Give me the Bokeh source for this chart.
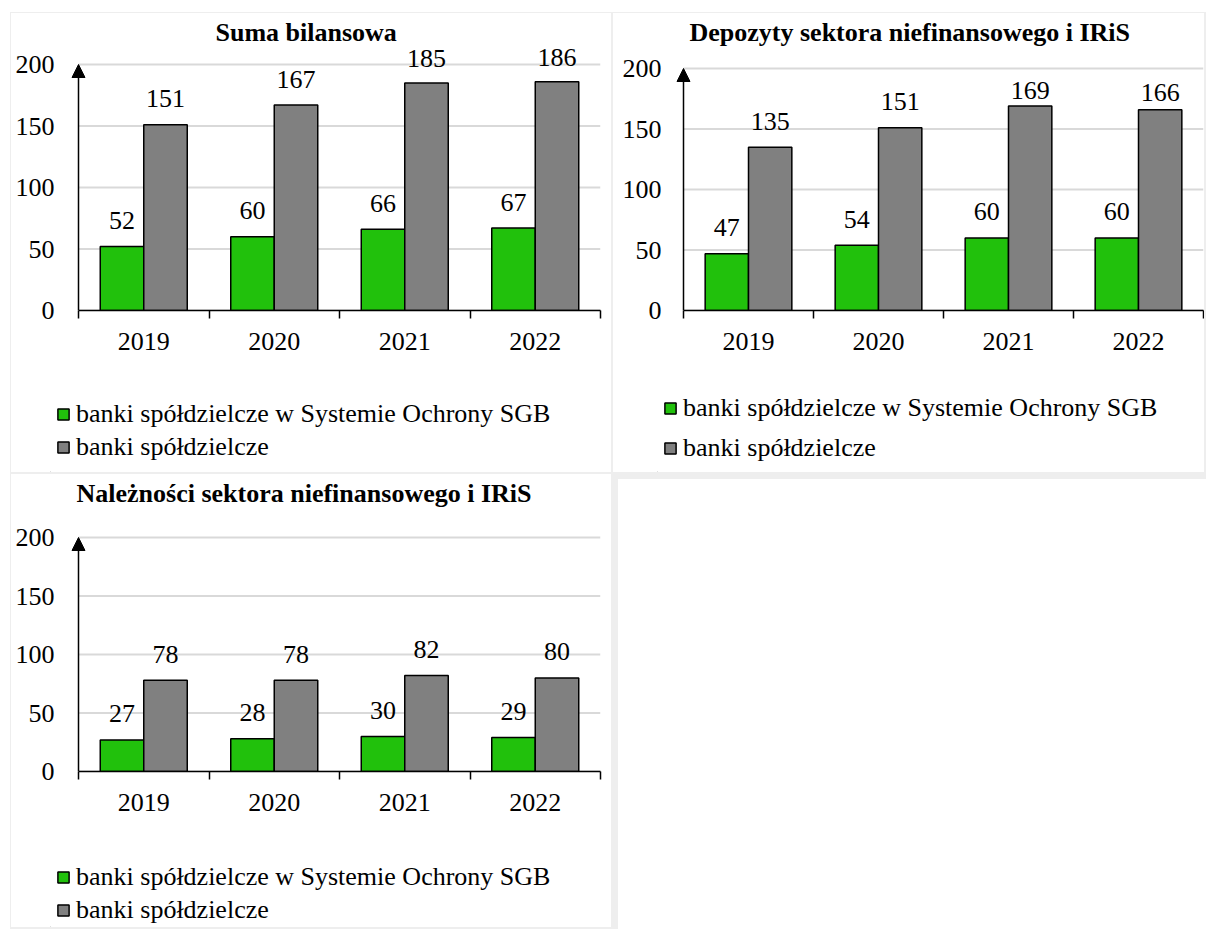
from bokeh.plotting import figure
from bokeh.models import (Range1d, FixedTicker, Arrow, NormalHead, Legend, LegendItem,
                          ColumnDataSource, Title, Div)
from bokeh.layouts import row, column
from bokeh.transform import dodge
from bokeh.core.properties import value
from bokeh.embed import file_html
from bokeh.resources import INLINE

# ---------------- data ----------------
years = ["2019", "2020", "2021", "2022"]
series_sgb = "banki spółdzielcze w Systemie Ochrony SGB"
series_all = "banki spółdzielcze"

title_suma = "Suma bilansowa"
suma_sgb = [52, 60, 66, 67]
suma_all = [151, 167, 185, 186]

title_dep = "Depozyty sektora niefinansowego i IRiS"
dep_sgb = [47, 54, 60, 60]
dep_all = [135, 151, 169, 166]

title_nal = "Należności sektora niefinansowego i IRiS"
nal_sgb = [27, 28, 30, 29]
nal_all = [78, 78, 82, 80]

y_ticks = [0, 50, 100, 150, 200]
y_max = 200

# ---------------- style ----------------
FONT = "Liberation Serif"
FS = "26px"
GREEN = "#21c10c"
GRAY = "#808080"
GRID = "#d9d9d9"


def chart(title, sgb, allv, width, height, frame_l, frame_r, frame_t, frame_b,
          axis_px, y200_px, y_lab_standoff, title_offset, title_standoff,
          off_sgb, off_all):
    n = len(years)
    frame_w = width - frame_l - frame_r
    x_start = -(axis_px - frame_l) * n / (frame_w - (axis_px - frame_l))
    y_end = y_max + (y200_px - frame_t) * y_max / ((height - frame_b) - y200_px)

    p = figure(width=width, height=height, x_range=Range1d(x_start, n), y_range=Range1d(0, y_end),
               output_backend="svg", toolbar_location=None, tools="",
               min_border_left=frame_l, min_border_right=frame_r,
               min_border_top=frame_t, min_border_bottom=frame_b)
    p.outline_line_color = None
    p.background_fill_color = "white"
    p.border_fill_color = "white"

    p.add_layout(Title(text=title, align="left", offset=title_offset, standoff=title_standoff,
                       text_font=FONT, text_font_size=FS, text_font_style="bold",
                       text_color="black"), "above")

    centers = [i + 0.5 for i in range(n)]
    bounds = [i for i in range(n + 1)]
    src = ColumnDataSource(dict(x=centers, sgb=sgb, all=allv,
                                sgb_lbl=[str(v) for v in sgb],
                                all_lbl=[str(v) for v in allv],
                                off_sgb=off_sgb, off_all=off_all))

    # horizontal grid lines from the value axis to the end of the category axis
    p.segment(x0=0, x1=n, y0=y_ticks, y1=y_ticks, line_color=GRID, line_width=2)

    p.vbar(x=dodge("x", -1 / 6, range=p.x_range), top="sgb", width=1 / 3, source=src,
           fill_color=GREEN, line_color="black", line_width=1.5)
    p.vbar(x=dodge("x", 1 / 6, range=p.x_range), top="all", width=1 / 3, source=src,
           fill_color=GRAY, line_color="black", line_width=1.5)

    p.text(x=dodge("x", -1 / 6, range=p.x_range), y="sgb", text="sgb_lbl", source=src,
           text_align="center", text_baseline="alphabetic", y_offset="off_sgb",
           text_font=value(FONT), text_font_size=FS, text_color="black")
    p.text(x=dodge("x", 1 / 6, range=p.x_range), y="all", text="all_lbl", source=src,
           text_align="center", text_baseline="alphabetic", y_offset="off_all",
           text_font=value(FONT), text_font_size=FS, text_color="black")

    # category axis
    p.xaxis.bounds = (0, n)
    p.xaxis.ticker = FixedTicker(ticks=centers, minor_ticks=bounds)
    p.xaxis.major_label_overrides = {c: y for c, y in zip(centers, years)}
    p.xaxis.major_tick_out = 0
    p.xaxis.major_tick_in = 0
    p.xaxis.minor_tick_out = 8
    p.xaxis.minor_tick_in = 0
    p.xaxis.minor_tick_line_color = "black"
    p.xaxis.minor_tick_line_width = 1.5
    p.xaxis.axis_line_color = "black"
    p.xaxis.axis_line_width = 1.5
    p.xaxis.major_label_standoff = 14
    p.xaxis.major_label_text_font = FONT
    p.xaxis.major_label_text_font_size = FS
    p.xaxis.major_label_text_color = "black"

    # value axis (its line is drawn as an arrow)
    p.yaxis.ticker = FixedTicker(ticks=y_ticks)
    p.yaxis.major_tick_out = 0
    p.yaxis.major_tick_in = 0
    p.yaxis.minor_tick_out = 0
    p.yaxis.axis_line_color = None
    p.yaxis.major_label_standoff = y_lab_standoff
    p.yaxis.major_label_text_font = FONT
    p.yaxis.major_label_text_font_size = FS
    p.yaxis.major_label_text_color = "black"

    p.xgrid.grid_line_color = None
    p.ygrid.grid_line_color = None

    p.add_layout(Arrow(end=NormalHead(size=13, fill_color="black", line_color="black", line_width=1),
                       x_start=0, y_start=0, x_end=0, y_end=y_max,
                       line_color="black", line_width=1.5))
    return p


def legend_fig(width, height, frame_l, frame_r, loc, spacing):
    q = figure(width=width, height=height, x_range=Range1d(0, 1), y_range=Range1d(0, 1),
               output_backend="svg", toolbar_location=None, tools="",
               x_axis_type=None, y_axis_type=None,
               min_border_left=frame_l, min_border_right=frame_r,
               min_border_top=0, min_border_bottom=0)
    q.outline_line_color = None
    q.background_fill_color = "white"
    q.border_fill_color = "white"
    q.xgrid.grid_line_color = None
    q.ygrid.grid_line_color = None
    # key swatches only (placed outside the visible range)
    g1 = q.vbar(x=[-1], top=[0], width=0.1, fill_color=GREEN, line_color="black", line_width=1.5)
    g2 = q.vbar(x=[-1], top=[0], width=0.1, fill_color=GRAY, line_color="black", line_width=1.5)
    legend = Legend(items=[LegendItem(label=value(series_sgb), renderers=[g1]),
                           LegendItem(label=value(series_all), renderers=[g2])],
                    location=loc, orientation="vertical",
                    label_text_font=FONT, label_text_font_size=FS, label_text_color="black",
                    glyph_width=14, glyph_height=14, label_standoff=6,
                    spacing=spacing, padding=0, margin=0,
                    border_line_color=None, background_fill_alpha=0)
    q.add_layout(legend)
    return q


c1 = chart(title_suma, suma_sgb, suma_all, 600, 380,
           frame_l=39, frame_r=11, frame_t=33, frame_b=83,
           axis_px=67, y200_px=51, y_lab_standoff=-4, title_offset=165, title_standoff=0,
           off_sgb=[-26] * 4, off_all=[-26, -26, -24, -24])
l1 = legend_fig(600, 79, 39, 11, (6, 10), 3)

c2 = chart(title_dep, dep_sgb, dep_all, 591, 380,
           frame_l=44, frame_r=1, frame_t=33, frame_b=83,
           axis_px=70, y200_px=55, y_lab_standoff=-4, title_offset=32, title_standoff=0,
           off_sgb=[-26] * 4, off_all=[-26, -26, -16, -17])
l2 = legend_fig(591, 79, 44, 1, (6, 9), 10)

c3 = chart(title_nal, nal_sgb, nal_all, 600, 381,
           frame_l=39, frame_r=11, frame_t=33, frame_b=84,
           axis_px=67, y200_px=63, y_lab_standoff=-4, title_offset=26, title_standoff=0,
           off_sgb=[-26] * 4, off_all=[-26] * 4)
l3 = legend_fig(600, 72, 39, 11, (6, 2), 3)

blank = Div(width=591, height=453, styles={"background-color": "white"})

WHITE = {"background-color": "white"}
top = row(column(c1, l1, spacing=0, styles=WHITE), column(c2, l2, spacing=0, styles=WHITE), spacing=2)
bottom = row(column(c3, l3, spacing=0, styles=WHITE), blank, spacing=2)
lay = column(top, bottom, spacing=2,
             styles={"background-color": "#eeeeee", "padding": "1px"},
             margin=(12, 0, 0, 10))

open("out.html", "w").write(file_html(lay, INLINE))
